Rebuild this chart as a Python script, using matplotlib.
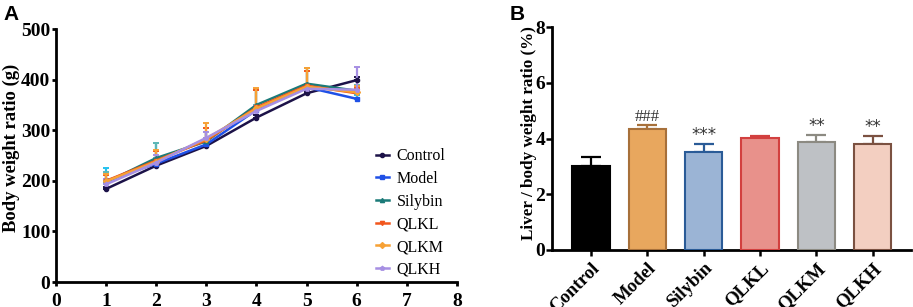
import numpy as np
import matplotlib.pyplot as plt

plt.rcParams['font.family'] = ['Liberation Serif', 'DejaVu Serif']
plt.rcParams['font.weight'] = 'bold'

# panel A data
weeks = [1, 2, 3, 4, 5, 6]
groups = ['Control', 'Model', 'Silybin', 'QLKL', 'QLKM', 'QLKH']
control = [184, 230, 269, 325, 373, 399]
model = [200, 234, 272, 340, 385, 362]
silybin = [197, 245, 278, 350, 392, 378]
qlkl = [200, 240, 280, 345, 388, 373]
qlkm = [199, 238, 283, 343, 386, 375]
qlkh = [193, 236, 285, 338, 382, 380]
control_err = [4, 4, 4, 5, 5, 6]
model_err = [25, 40, 25, 40, 38, 8]
silybin_err = [20, 30, 18, 30, 30, 12]
qlkl_err = [12, 18, 25, 35, 30, 10]
qlkm_err = [14, 22, 32, 40, 37, 12]
qlkh_err = [10, 15, 12, 10, 8, 45]

# panel B data
liver = [3.0, 4.33, 3.52, 4.01, 3.87, 3.82]
liver_err = [0.35, 0.15, 0.28, 0.09, 0.25, 0.26]
marks = ['', '###', '***', '', '**', '**']

line_colors = ['#1c1248', '#1f50e6', '#1b7a78', '#f2561c', '#f7a135', '#a68fe3']
err_colors = ['#1c1248', '#25c2ef', '#5fb7b5', '#f2561c', '#f7a135', '#a68fe3']
markers = ['o', 's', '^', 'v', 'D', 'p']
bar_faces = ['#000000', '#e8a75e', '#9bb4d5', '#e8918b', '#bec1c5', '#f3cfc1']
bar_edges = ['#000000', '#a7703a', '#2a5b97', '#d2403f', '#8c8a82', '#7b5141']

fig = plt.figure(figsize=(9.13, 3.07), dpi=100)

# ---- panel A
ax = fig.add_axes([0.0613, 0.0814, 0.4392, 0.8241])
series = [control, model, silybin, qlkl, qlkm, qlkh]
errs = [control_err, model_err, silybin_err, qlkl_err, qlkm_err, qlkh_err]
for i in range(len(groups)):
    ax.errorbar(weeks, series[i], yerr=[np.zeros(6), errs[i]], fmt='none',
                ecolor=err_colors[i], elinewidth=1.6, capsize=2.5, capthick=1.4, zorder=2)
for i in range(len(groups)):
    ax.plot(weeks, series[i], color=line_colors[i], lw=1.8, marker=markers[i],
            ms=3, label=groups[i], zorder=3)

ax.set_xlim(0, 8)
ax.set_ylim(0, 500)
ax.set_xticks(range(0, 9))
ax.set_yticks(range(0, 501, 100))
ax.tick_params(labelsize=14, width=2, length=3, pad=1)
ax.tick_params(axis='x', pad=5)
for s in ['top', 'right']:
    ax.spines[s].set_visible(False)
for s in ['left', 'bottom']:
    ax.spines[s].set_linewidth(2)
ax.set_ylabel('Body weight ratio (g)', fontsize=13.4, fontweight='bold')
ax.yaxis.set_label_coords(-0.09, 0.53)
leg = ax.legend(loc='lower left', bbox_to_anchor=(0.762, -0.04), frameon=False,
                handlelength=0.8, handletextpad=0.5, labelspacing=0.42,
                prop={'family': ['Liberation Serif'], 'weight': 'normal', 'size': 11.5})
fig.text(0.004, 0.985, 'A', fontsize=15, fontweight='bold', family='Liberation Sans',
         va='top')

# ---- panel B
bx = fig.add_axes([0.6046, 0.1857, 0.3934, 0.7263])
pos = np.arange(len(groups))
bx.bar(pos, liver, width=0.66, color=bar_faces, edgecolor=bar_edges, linewidth=1.5, zorder=3)
for i in range(len(groups)):
    bx.errorbar(pos[i], liver[i], yerr=[[0], [liver_err[i]]], fmt='none',
                ecolor=bar_edges[i], elinewidth=1.6, capsize=7, capthick=1.6, zorder=2)
    if marks[i]:
        bx.text(pos[i], liver[i] + liver_err[i] + 0.02, marks[i], ha='center', va='bottom',
                fontsize=12, fontweight='normal', color='#333333',
                family='DejaVu Sans' if '*' in marks[i] else 'Liberation Serif')
bx.set_xlim(-0.69, 5.68)
bx.set_ylim(0, 8)
bx.set_yticks(range(0, 9, 2))
bx.set_xticks(pos)
bx.set_xticklabels(groups, rotation=45, ha='right', rotation_mode='anchor')
bx.tick_params(labelsize=14, width=1.8, length=4, pad=1)
bx.tick_params(axis='x', labelsize=13.5, pad=3)
for s in ['top', 'right']:
    bx.spines[s].set_visible(False)
for s in ['left', 'bottom']:
    bx.spines[s].set_linewidth(2)
bx.set_ylabel('Liver / body weight ratio (%)', fontsize=12.3, fontweight='bold')
bx.yaxis.set_label_coords(-0.042, 0.525)
fig.text(0.558, 0.985, 'B', fontsize=15, fontweight='bold', family='Liberation Sans',
         va='top')

fig.savefig('out.png', dpi=100)
